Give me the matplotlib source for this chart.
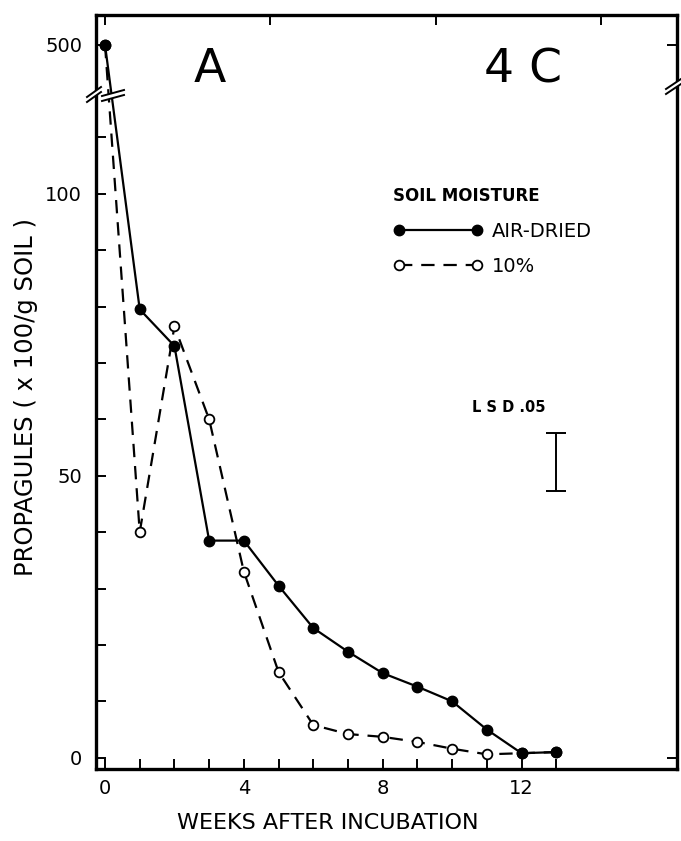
import numpy as np
import matplotlib
matplotlib.use("Agg")
import matplotlib.pyplot as plt

# Datos (propágulos x 100/g de suelo)
semanas = [0, 1, 2, 3, 4, 5, 6, 7, 8, 9, 10, 11, 12, 13]
secado_aire = [500, 79.5, 73, 38.5, 38.5, 30.5, 23, 18.8, 15, 12.6, 10, 5, 0.8, 1.0]
humedad_10 = [500, 40, 76.5, 60, 33, 15.2, 5.8, 4.2, 3.7, 2.8, 1.6, 0.6, 0.8, 1.0]
lsd_x, lsd_centro, lsd_valor = 13, 52.4, 10.3

W, H = 681, 841
def fx(px):  # pixel -> fracción de figura
    return px / W
def fy(py):
    return 1 - py / H

# Escala con corte: por encima de B el eje se comprime
B, k = 118.0, 0.022
def fwd(y):
    y = np.asarray(y, dtype=float)
    return np.where(y <= B, y, B + (y - B) * k)
def inv(u):
    u = np.asarray(u, dtype=float)
    return np.where(u <= B, u, B + (u - B) / k)

plt.rcParams['font.family'] = ['DejaVu Sans']
fig = plt.figure(figsize=(W / 100, H / 100), dpi=100)
ax = fig.add_axes([fx(96), fy(769), fx(677) - fx(96), fy(15) - fy(769)])
ax.set_yscale('function', functions=(fwd, inv))

ax.plot(semanas, secado_aire, '-', color='k', lw=1.6, marker='o', ms=7.5,
        mfc='k', mec='k', label='AIR-DRIED', zorder=3)
ax.plot(semanas, humedad_10, '--', color='k', lw=1.6, dashes=(6, 4), marker='o', ms=7,
        mfc='white', mec='k', mew=1.3, label='10%', zorder=2)
ax.errorbar([lsd_x], [lsd_centro], yerr=lsd_valor / 2, fmt='none', ecolor='k',
            elinewidth=1.4, capsize=7, capthick=1.4)

ylim = (-2, float(inv(131.7)))
ax.set_xlim(-0.26, 16.48)
ax.set_ylim(*ylim)

for s in ax.spines.values():
    s.set_linewidth(2.4)

ax.set_xticks([0, 4, 8, 12])
ax.set_xticks(range(0, 14), minor=True)
ax.set_yticks([0, 50, 100, 500])
ax.set_yticks(list(range(10, 120, 10)), minor=True)
ax.set_yticklabels(['0', '50', '100', '500'])
ax.tick_params(which='both', direction='in', length=7, width=1.4, labelsize=14)
ax.tick_params(axis='y', pad=10)
ax.tick_params(axis='x', pad=7)

# marcas superiores y derechas
ax2 = ax.secondary_xaxis('top')
ax2.set_xticks([0, 4.75, 9.55, 14.3])
ax2.tick_params(direction='in', length=7, width=1.4, labeltop=False)
ax2.spines['top'].set_visible(False)
ax3 = ax.twinx()
ax3.set_yscale('function', functions=(fwd, inv))
ax3.set_ylim(*ylim)
ax3.set_yticks([0, 500])
ax3.yaxis.set_minor_locator(plt.NullLocator())
ax3.tick_params(direction='in', length=7, width=1.4, labelright=False)
for s in ax3.spines.values():
    s.set_visible(False)

# Símbolos de corte
def corte(x0, x1, yc, dy, gap):
    xs = [fx(x0), fx(x1)]
    y_a = [fy(yc + dy), fy(yc - dy)]
    y_b = [fy(yc + dy + gap), fy(yc - dy + gap)]
    fig.patches.append(plt.Polygon([[xs[0], y_a[0]], [xs[1], y_a[1]],
                                    [xs[1], y_b[1]], [xs[0], y_b[0]]],
                                   closed=True, fc='white', ec='none',
                                   transform=fig.transFigure, zorder=5))
    for yy in (y_a, y_b):
        fig.add_artist(plt.Line2D(xs, yy, color='k', lw=1.4, transform=fig.transFigure, zorder=6))

corte(87, 101, 92, 5, 5)
corte(102, 124, 93, 3, 5)
corte(666, 681, 84, 5, 5)

ax.legend(title='SOIL MOISTURE', numpoints=2, frameon=False, fontsize=14,
          title_fontproperties={'size': 12, 'weight': 'semibold'}, alignment='left',
          handlelength=4.6, handletextpad=0.5, labelspacing=0.85,
          loc='upper left', bbox_to_anchor=(fx(393), fy(187)),
          bbox_transform=fig.transFigure, borderpad=0, borderaxespad=0)

fig.text(fx(210), fy(70), 'A', fontsize=34, ha='center', va='center')
fig.text(fx(523), fy(70), '4 C', fontsize=34, ha='center', va='center')
fig.text(fx(509), fy(408), 'L S D .05', fontsize=10.5, ha='center', va='center',
         weight='semibold')
fig.text(fx(328), fy(823), 'WEEKS AFTER INCUBATION', fontsize=16, ha='center', va='center')
fig.text(fx(26), fy(397), 'PROPAGULES ( x 100/g SOIL )', fontsize=17.5, rotation=90,
         ha='center', va='center')

fig.savefig('out.png', dpi=100)
